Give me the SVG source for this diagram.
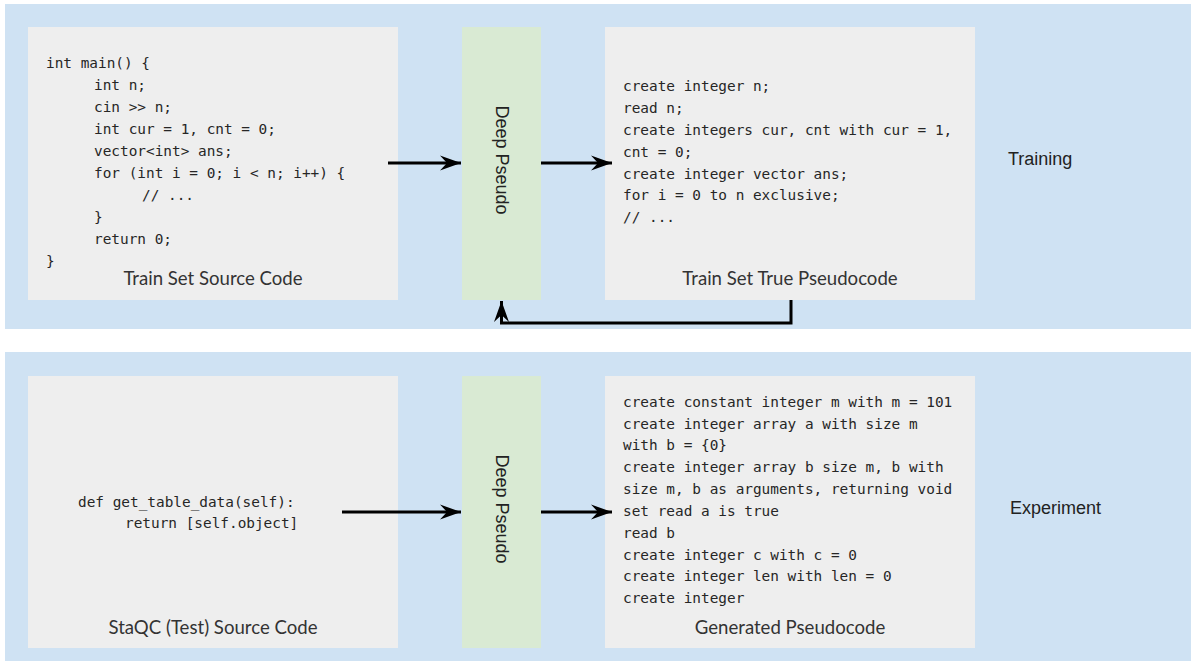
<svg xmlns="http://www.w3.org/2000/svg" width="1191" height="661" viewBox="0 0 1191 661">
  <style>
    .panel { fill: #cfe2f3; }
    .box { fill: #eeeeee; }
    .model { fill: #d9ead3; }
    .code { font-family: "DejaVu Sans Mono", "Liberation Mono", monospace; font-size: 14.4px; fill: #262626; }
    .caption { font-family: Lato, "Liberation Sans", sans-serif; font-size: 18.6px; fill: #333333; text-anchor: middle; }
    .tag { font-family: "Liberation Sans", Arial, sans-serif; font-size: 18px; fill: #222222; }
    .model-label { font-family: "Liberation Sans", Arial, sans-serif; font-size: 18px; fill: #222222; text-anchor: middle; }
    .wire { fill: none; stroke: #000000; stroke-width: 3; }
  </style>
  <defs>
    <marker id="head" markerUnits="userSpaceOnUse" viewBox="-22 -8 24 16" refX="0" refY="0" markerWidth="24" markerHeight="16" orient="auto">
      <path d="M0,0 L-21,-7.5 L-14,0 L-21,7.5 Z" fill="#000000"/>
    </marker>
  </defs>

  <rect width="1191" height="661" fill="#ffffff"/>

  <!-- section backgrounds -->
  <rect id="training-panel" class="panel" x="5" y="4" width="1186" height="325"/>
  <rect id="experiment-panel" class="panel" x="5" y="352" width="1186" height="309"/>

  <!-- training row -->
  <g id="train-source">
    <rect class="box" x="28" y="27" width="370" height="273"/>
    <text class="code" x="46" y="68">int main() {</text>
    <text class="code" x="94" y="90">int n;</text>
    <text class="code" x="94" y="112">cin &gt;&gt; n;</text>
    <text class="code" x="94" y="134">int cur = 1, cnt = 0;</text>
    <text class="code" x="94" y="156">vector&lt;int&gt; ans;</text>
    <text class="code" x="94" y="178">for (int i = 0; i &lt; n; i++) {</text>
    <text class="code" x="142" y="200">// ...</text>
    <text class="code" x="94" y="222">}</text>
    <text class="code" x="94" y="244">return 0;</text>
    <text class="code" x="46" y="266">}</text>
    <text class="caption" x="213" y="285">Train Set Source Code</text>
  </g>

  <g id="train-model">
    <rect class="model" x="462" y="27" width="79" height="273"/>
    <text class="model-label" transform="translate(495.5 160) rotate(90)">Deep Pseudo</text>
  </g>

  <g id="train-pseudocode">
    <rect class="box" x="605" y="27" width="370" height="273"/>
    <text class="code" x="623" y="91">create integer n;</text>
    <text class="code" x="623" y="113">read n;</text>
    <text class="code" x="623" y="135">create integers cur, cnt with cur = 1,</text>
    <text class="code" x="623" y="157">cnt = 0;</text>
    <text class="code" x="623" y="179">create integer vector ans;</text>
    <text class="code" x="623" y="200">for i = 0 to n exclusive;</text>
    <text class="code" x="623" y="222">// ...</text>
    <text class="caption" x="790" y="285">Train Set True Pseudocode</text>
  </g>

  <g id="training-label">
    <text class="tag" x="1008" y="165">Training</text>
  </g>

  <!-- experiment row -->
  <g id="test-source">
    <rect class="box" x="28" y="376" width="370" height="272"/>
    <text class="code" x="78" y="507">def get_table_data(self):</text>
    <text class="code" x="125" y="528">return [self.object]</text>
    <text class="caption" x="213" y="634">StaQC (Test) Source Code</text>
  </g>

  <g id="test-model">
    <rect class="model" x="462" y="376" width="79" height="272"/>
    <text class="model-label" transform="translate(495.5 509) rotate(90)">Deep Pseudo</text>
  </g>

  <g id="generated-pseudocode">
    <rect class="box" x="605" y="376" width="370" height="272"/>
    <text class="code" x="623" y="407">create constant integer m with m = 101</text>
    <text class="code" x="623" y="429">create integer array a with size m</text>
    <text class="code" x="623" y="450">with b = {0}</text>
    <text class="code" x="623" y="472">create integer array b size m, b with</text>
    <text class="code" x="623" y="494">size m, b as arguments, returning void</text>
    <text class="code" x="623" y="516">set read a is true</text>
    <text class="code" x="623" y="538">read b</text>
    <text class="code" x="623" y="560">create integer c with c = 0</text>
    <text class="code" x="623" y="581">create integer len with len = 0</text>
    <text class="code" x="623" y="603">create integer</text>
    <text class="caption" x="790" y="634">Generated Pseudocode</text>
  </g>

  <g id="experiment-label">
    <text class="tag" x="1010" y="514">Experiment</text>
  </g>

  <!-- connectors -->
  <g id="connectors">
    <path class="wire" d="M388,163 L461,163" marker-end="url(#head)"/>
    <path class="wire" d="M541,163 L612,163" marker-end="url(#head)"/>
    <path class="wire" d="M791,300 L791,323 L501.5,323 L501.5,301" marker-end="url(#head)"/>
    <path class="wire" d="M342,512 L461,512" marker-end="url(#head)"/>
    <path class="wire" d="M541,512 L612,512" marker-end="url(#head)"/>
  </g>
</svg>
